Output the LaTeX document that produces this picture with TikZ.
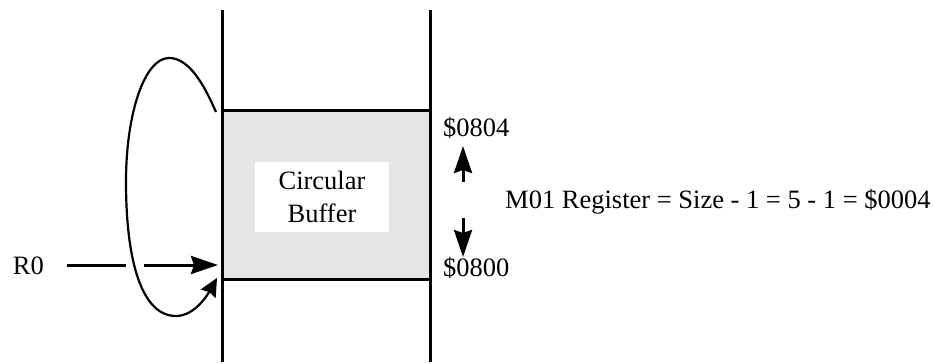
\documentclass[tikz,border=0pt]{standalone}
\usepackage{fontspec}
\setmainfont{Liberation Serif}
\usetikzlibrary{arrows.meta}
\definecolor{bufgray}{HTML}{E5E5E5}
\begin{document}
\begin{tikzpicture}[x=1pt,y=1pt,
  lbl/.style={inner sep=0pt, font=\fontsize{26.5}{33}\selectfont, anchor=base west},
  wall/.style={line width=3pt},
  arr/.style={line width=3pt, -{Stealth[length=27pt,width=18pt,inset=3pt]}},
  loopline/.style={line width=2.2pt, -{Stealth[length=18pt,width=17pt,inset=2pt]}}]
\useasboundingbox (0,0) rectangle (933,362);
% buffer region
\node[fill=bufgray, inner sep=0pt, minimum width=208pt, minimum height=168pt, anchor=south west] (buf) at (222,83) {};
\node[fill=white, inner sep=0pt, minimum width=134pt, minimum height=70pt, align=center,
      font=\fontsize{26.5}{33}\selectfont] (txt) at (322,165) {Circular\\Buffer};
% walls
\coordinate (lt) at (222,352); \coordinate (lb) at (222,0);
\coordinate (rt) at (430,352); \coordinate (rb) at (430,0);
\draw[wall] (lt) -- (lb);
\draw[wall] (rt) -- (rb);
\draw[wall] (buf.north west) -- (buf.north east);
\draw[wall] (buf.south west) -- (buf.south east);
% R0 pointer
\node[lbl] (r0) at (12.7,88) {R0};
\coordinate (g1) at (126,97);
\coordinate (g2) at (144,97);
\draw[line width=3pt, shorten <=23pt] (r0.east |- g1) -- (g1);
\draw[arr, shorten >=4pt] (g2) -- (buf.west |- g2);
% wrap-around loop
\coordinate (ls) at (216,250);
\coordinate (le) at (217,84);
\draw[loopline] (ls) .. controls (205,275) and (190,304) .. (169,304)
   .. controls (145,304) and (126,250) .. (126,180)
   .. controls (126,100) and (142,46) .. (176,46)
   .. controls (195,46) and (208,68) .. (le);
% size arrows and labels
\coordinate (ua) at (463,180); \coordinate (ub) at (463,216);
\coordinate (da) at (463,144); \coordinate (db) at (463,105);
\draw[arr] (ua) -- (ub);
\draw[arr] (da) -- (db);
\node[lbl] (a804) at (443,225.3) {\$0804};
\node[lbl] (a800) at (443,85.3) {\$0800};
\node[lbl] (m01) at (505,154) {M01 Register = Size - 1 = 5 - 1 = \$0004};
\end{tikzpicture}
\end{document}
